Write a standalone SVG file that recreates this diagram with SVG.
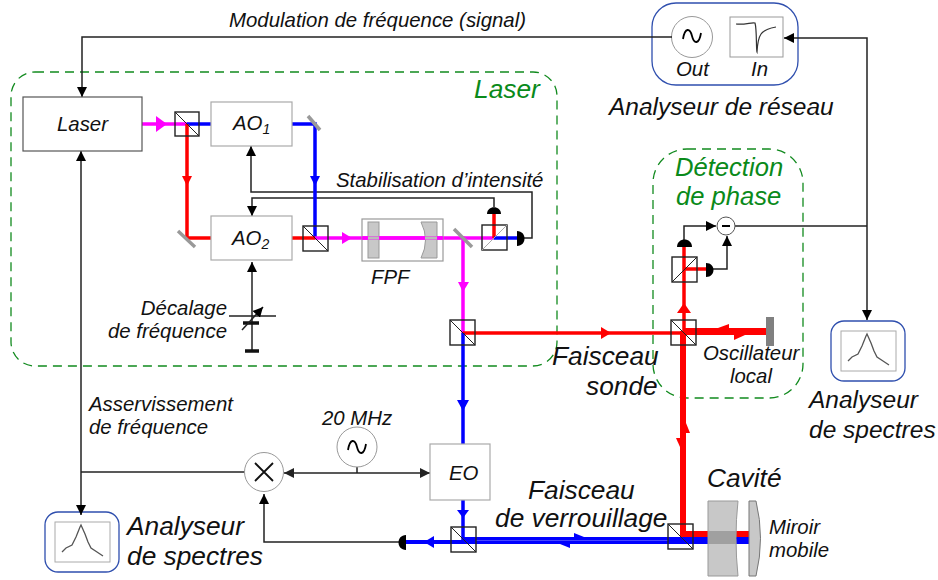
<svg xmlns="http://www.w3.org/2000/svg" width="938" height="580" viewBox="0 0 938 580">
<defs>
<marker id="ar" markerUnits="userSpaceOnUse" markerWidth="12" markerHeight="12" refX="10" refY="5" orient="auto"><path d="M0,0L10,5L0,10Z" fill="#000"/></marker>
<marker id="as" markerUnits="userSpaceOnUse" markerWidth="12" markerHeight="12" refX="10" refY="5" orient="auto-start-reverse"><path d="M0,0L10,5L0,10Z" fill="#222"/></marker>
<g id="spec"><rect x="0" y="0" width="55" height="40" fill="#fff" stroke="#aaa" stroke-width="1"/><path d="M7,30L11,26L17,23L21,15L25,5L26,3L30,12L33,20L36,26L42,30L48,34" fill="none" stroke="#555" stroke-width="1.300"/></g>
<g id="sine"><path d="M-9,3C-7,-9 -2,-8 0,0C2,8 7,9 9,-3" fill="none" stroke="#000" stroke-width="1.800"/></g>
</defs>
<style>
text{font-family:"Liberation Sans",Arial,sans-serif;font-style:italic;fill:#111}
.s20{font-size:20.4px}.s24{font-size:24.500px}.s26{font-size:26.300px}
.g{fill:#0a8a1a}
.dash{fill:none;stroke:#118a1e;stroke-width:1.300;stroke-dasharray:9 6}
.box{fill:#fff;stroke:#aaa;stroke-width:1.200}
.bs{fill:none;stroke:#222;stroke-width:1.400}
.ln{fill:none;stroke:#222;stroke-width:1.500}
.red{fill:none;stroke:#f00;stroke-width:3.500}
.blue{fill:none;stroke:#00f;stroke-width:3.500}
.mag{fill:none;stroke:#f0f;stroke-width:3.500}
.mir{stroke:#999;stroke-width:3.500}
.circ{fill:#fff;stroke:#999;stroke-width:1}
.glass{fill:#c8c8c8;stroke:#999;stroke-width:1}
.panel{fill:#fff;stroke:#2f4fae;stroke-width:1.300}
</style>
<g id="groups">
<rect class="dash" x="11" y="72" width="546" height="294" rx="24"/>
<rect class="dash" x="653" y="149" width="150" height="249" rx="34"/>
</g>
<g id="network"><rect class="panel" x="652" y="3" width="146" height="82" rx="24"/><circle class="circ" cx="692" cy="37" r="20.500"/><use href="#sine" x="692" y="36"/><rect x="730" y="17" width="53" height="40" fill="#fff" stroke="#999"/><path d="M736,24C745,25 752,22 755,23C757,30 756,50 757,52C758,35 760,30 776,27" fill="none" stroke="#333" stroke-width="1.200"/><text class="s20" x="676" y="76">Out</text><text class="s20" x="751" y="76">In</text></g>
<g id="spec-right"><rect class="panel" x="831" y="321" width="74" height="60" rx="13"/><use href="#spec" x="841" y="331"/></g>
<g id="spec-left"><rect class="panel" x="45" y="512" width="74" height="60" rx="13"/><use href="#spec" x="55" y="522"/></g>
<g id="connectors">
<path class="ln" d="M672,37H82V97" marker-end="url(#ar)"/>
<path class="ln" d="M867,226V38H784" marker-end="url(#ar)"/>
<path class="ln" d="M867,226V320" marker-end="url(#ar)"/>
<path class="ln" d="M735,226H867"/>
<path class="ln" d="M684,241V226H716" marker-end="url(#ar)"/>
<path class="ln" d="M713,269H727V236" marker-end="url(#ar)"/>
<path class="ln" d="M245,472H81"/>
<path class="ln" d="M81,473V151" marker-end="url(#ar)"/>
<path class="ln" d="M81,473V515" marker-end="url(#ar)"/>
<path class="ln" d="M284,473H430" marker-start="url(#as)" marker-end="url(#as)"/>
<path class="ln" d="M357,466V473"/>
<path class="ln" d="M400,542H264V494" marker-end="url(#ar)"/>
<path class="ln" d="M524,238H532V192H251V146" marker-end="url(#ar)"/>
<path class="ln" d="M494,207V198H252V216" marker-end="url(#ar)"/>
<path class="ln" d="M252,351V262" marker-end="url(#ar)"/>
<path d="M229,316H276" stroke="#222" stroke-width="1.600"/>
<path d="M243,323H259M245,351H259" stroke="#111" stroke-width="3.500"/>
<path class="ln" d="M242,330L263,307" marker-end="url(#ar)"/>
</g>
<g id="beams">
<path class="mag" d="M142,124H187"/>
<path class="blue" d="M187,124H315V238"/>
<path class="red" d="M187,124V238H315"/>
<path class="mag" d="M315,238H463V333"/>
<path class="mag" d="M463,238H494"/>
<path class="red" d="M494,238V214"/>
<path class="blue" d="M494,238H517"/>
<path class="red" d="M463,333H684"/>
<path class="blue" d="M463,333V527M463,527V542"/>
<path fill="none" stroke="#00f" stroke-width="4" d="M405,542H463"/>
<path fill="none" stroke="#00f" stroke-width="7" d="M463,540.500H749"/>
<path fill="none" stroke="#4646ff" stroke-width="1" d="M476,540.500H668"/>
<path class="red" d="M684,333V247"/>
<path class="red" d="M684,269H706"/>
<path fill="none" stroke="#f00" stroke-width="7" d="M683,331.500H767"/>
<path fill="none" stroke="#f00" stroke-width="6" d="M683,331V534H749"/>
<g id="beam-arrows">
<path fill="#f0f" d="M156,116L167,124L156,132Z"/>
<path fill="#f00" d="M182,176H192L187,186Z"/>
<path fill="#00f" d="M310,176H320L315,186Z"/>
<path fill="#f0f" d="M342,232L352,238L342,244Z"/>
<path fill="#f0f" d="M458,282H469L463,292Z"/>
<path fill="#f00" d="M601,327L611,333L601,339Z"/>
<path fill="#00f" d="M457,400H469L463,411Z"/>
<path fill="#00f" d="M457,510H469L463,518Z"/>
<path fill="#00f" d="M424,542L434,536V548Z"/>
<path fill="#f00" d="M684,303L677,313H691Z"/>
<path fill="#f00" d="M729,328V324L718,328Z"/>
<path fill="#f00" d="M734,335V340L745,335Z"/>
<path fill="#f00" d="M686,423L690,433H686Z"/>
<path fill="#f00" d="M680,438H676L680,447Z"/>
<path fill="#00f" d="M574,537V533L584,537Z"/>
<path fill="#00f" d="M570,544V548L560,544Z"/>
</g>
</g>
<g id="laser"><rect x="23" y="97" width="119" height="54" fill="#fff" stroke="#555" stroke-width="1.200"/><text class="s20" x="82.500" y="131" text-anchor="middle">Laser</text></g>
<g id="bs1"><rect class="bs" x="175" y="112" width="24" height="24"/><path d="M175,112L199,136" stroke="#222"/></g>
<g id="ao1"><rect class="box" x="211" y="102" width="81" height="44"/><text class="s20" x="233" y="130">AO<tspan font-size="14" dy="4">1</tspan></text></g>
<g id="ao2"><rect class="box" x="211" y="216" width="81" height="44"/><text class="s20" x="232" y="245">AO<tspan font-size="14" dy="4">2</tspan></text></g>
<g id="mirrors"><path class="mir" d="M308,116L320,130"/><path class="mir" d="M178,231L195,247"/><path class="mir" d="M454,229L472,247"/></g>
<g id="bs2"><rect class="bs" x="303" y="226" width="25" height="25"/><path d="M303,226L328,251" stroke="#222"/></g>
<g id="fpf"><rect x="362" y="219" width="81" height="42" fill="none" stroke="#999" stroke-width="1.200"/><rect class="glass" x="368" y="222" width="11" height="36"/><path class="glass" d="M421,222H437V258H421Q430,240 421,222Z"/><path class="mag" d="M362,238H443"/><path d="M368,236.500H379V239.500H368ZM425,236.500H437V239.500H425Z" fill="#bbb"/><text class="s20" x="371" y="284">FPF</text></g>
<g id="bs3"><rect class="bs" x="482" y="225" width="25" height="25"/><path d="M482,250L507,225" stroke="#aaa"/></g>
<g id="det1"><path d="M487,214C487,205 501,205 501,214Z" fill="#000"/></g>
<g id="det2"><path d="M517,231C527,231 527,246 517,246Z" fill="#000"/></g>
<g id="bs4"><rect class="bs" x="450" y="320" width="25" height="25"/><path d="M450,320L475,345" stroke="#222"/></g>
<g id="bs5"><rect class="bs" x="671" y="320" width="25" height="25"/><path d="M671,320L696,345" stroke="#222"/></g>
<g id="bs6"><rect class="bs" x="672" y="257" width="25" height="25"/><path d="M672,282L697,257" stroke="#222"/></g>
<g id="det3"><path d="M677,247C677,237 692,237 692,247Z" fill="#000"/></g>
<g id="det4"><path d="M706,263C716,263 716,277 706,277Z" fill="#000"/></g>
<g id="diff"><circle cx="726" cy="226" r="9" fill="#fff" stroke="#555" stroke-width="1"/><path d="M722,226H730" stroke="#000" stroke-width="2"/></g>
<g id="oscillator-mirror"><rect x="766" y="317" width="8" height="29" fill="#808080"/></g>
<g id="bs7"><rect class="bs" x="668" y="524" width="25" height="25"/><path d="M668,524L693,549" stroke="#222"/></g>
<g id="bs8"><rect class="bs" x="451" y="527" width="25" height="25"/><path d="M451,527L476,552" stroke="#222"/></g>
<g id="det5"><path d="M406,535C396,535 396,550 406,550Z" fill="#000"/></g>
<g id="eo"><rect class="box" x="430" y="444" width="60" height="56"/><text class="s20" x="449" y="480">EO</text></g>
<g id="mixer"><circle class="circ" cx="264" cy="472" r="19.500"/><path d="M255,463L273,481M273,463L255,481" stroke="#111" stroke-width="1.800"/></g>
<g id="osc"><circle class="circ" cx="357" cy="447" r="20"/><use href="#sine" x="357" y="447"/></g>
<g id="cavity"><path class="glass" d="M708,501H738Q734,538 738,576H708Z"/><rect x="708" y="531" width="28" height="13" fill="#a0a0a0"/><path d="M749,501H756Q765,538 756,576H749Z" fill="#c8c8c8" stroke="#777" stroke-width="1"/></g>
<g id="labels">
<text class="s20" x="229" y="27">Modulation de fréquence (signal)</text>
<text class="s24" x="609" y="115">Analyseur de réseau</text>
<text class="s26 g" x="474" y="98">Laser</text>
<text class="g" font-size="25.600" x="675" y="176">Détection</text>
<text class="g" font-size="25.600" x="676" y="205">de phase</text>
<text class="s20" x="336" y="187">Stabilisation d’intensité</text>
<text class="s20" x="227" y="315" text-anchor="end">Décalage</text>
<text class="s20" x="227" y="338" text-anchor="end">de fréquence</text>
<text class="s26" x="552" y="365">Faisceau</text>
<text class="s26" x="586" y="395">sonde</text>
<text class="s20" x="703" y="360">Oscillateur</text>
<text class="s20" x="730" y="383">local</text>
<text class="s24" x="809" y="408">Analyseur</text>
<text class="s24" x="809" y="438">de spectres</text>
<text class="s20" x="89" y="411">Asservissement</text>
<text class="s20" x="89" y="434">de fréquence</text>
<text class="s20" x="322" y="425">20 MHz</text>
<text class="s26" x="528" y="499">Faisceau</text>
<text class="s26" x="495" y="527">de verrouillage</text>
<text class="s26" x="707" y="487">Cavité</text>
<text class="s20" x="769" y="534">Miroir</text>
<text class="s20" x="769" y="557">mobile</text>
<text class="s26" x="127" y="535">Analyseur</text>
<text class="s26" x="127" y="565">de spectres</text>
</g>
</svg>
